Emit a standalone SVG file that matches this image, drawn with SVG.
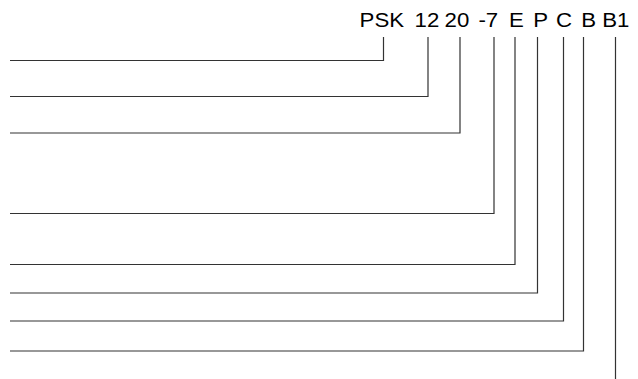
<svg xmlns="http://www.w3.org/2000/svg" width="638" height="379" viewBox="0 0 638 379">
<style>
.lbl{font-family:"Liberation Sans",Arial,sans-serif;font-size:21px;fill:#000;text-anchor:middle}
.ln{fill:none;stroke:#333;stroke-width:1.2}
</style>
<rect width="638" height="379" fill="#fff"/>
<g id="labels">
<g id="n-psk" transform="translate(381.8 26.5) scale(1.06 1)"><text class="lbl" x="0" y="0">PSK</text></g>
<g id="n-12" transform="translate(427 26.5) scale(1.06 1)"><text class="lbl" x="0" y="0">12</text></g>
<g id="n-20" transform="translate(457 26.5) scale(1.06 1)"><text class="lbl" x="0" y="0">20</text></g>
<g id="n-7" transform="translate(488.3 26.5) scale(1.06 1)"><text class="lbl" x="0" y="0">-7</text></g>
<g id="n-e" transform="translate(516.5 26.5) scale(1.06 1)"><text class="lbl" x="0" y="0">E</text></g>
<g id="n-p" transform="translate(540.8 26.5) scale(1.06 1)"><text class="lbl" x="0" y="0">P</text></g>
<g id="n-c" transform="translate(564 26.5) scale(1.06 1)"><text class="lbl" x="0" y="0">C</text></g>
<g id="n-b" transform="translate(588.8 26.5) scale(1.06 1)"><text class="lbl" x="0" y="0">B</text></g>
<g id="n-b1" transform="translate(615.8 26.5) scale(1.06 1)"><text class="lbl" x="0" y="0">B1</text></g>
</g>
<g id="connectors">
<path class="ln" d="M10 60.5 H383.5 V37"/>
<path class="ln" d="M10 96.5 H428 V37"/>
<path class="ln" d="M10 133 H460 V37"/>
<path class="ln" d="M10 213.5 H494 V37"/>
<path class="ln" d="M10 264.5 H515 V37"/>
<path class="ln" d="M10 293 H537.5 V37"/>
<path class="ln" d="M10 321 H563.5 V37"/>
<path class="ln" d="M10 351 H583.5 V37"/>
<path class="ln" d="M615.5 37 V379"/>
</g>
</svg>
